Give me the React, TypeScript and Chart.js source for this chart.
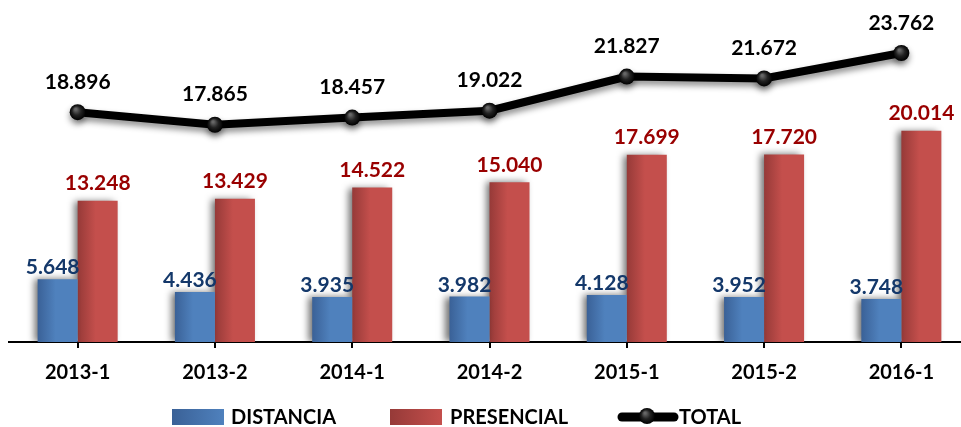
import React, { useEffect, useRef } from "react";
import { Chart, registerables } from "chart.js";

Chart.register(...registerables);

const categories = ["2013-1", "2013-2", "2014-1", "2014-2", "2015-1", "2015-2", "2016-1"];
const distancia = [5.648, 4.436, 3.935, 3.982, 4.128, 3.952, 3.748];
const presencial = [13.248, 13.429, 14.522, 15.04, 17.699, 17.72, 20.014];
const total = [18.896, 17.865, 18.457, 19.022, 21.827, 21.672, 23.762];
const seriesNames = ["DISTANCIA", "PRESENCIAL", "TOTAL"];

const FONT = "Lato, 'Open Sans', 'DejaVu Sans', sans-serif";
const BAR_MIN = -0.406;
const BAR_MAX = 31.68;
const LINE_MIN = 0;
const LINE_MAX = 27.3;
const CAT_PCT = 0.583;
const CANVAS_W = 978;

const BLUE_L = "#3a6197";
const BLUE_R = "#4f81bd";
const RED_L = "#963a38";
const RED_R = "#c44f4c";

function barGradient(ctx: any, left: boolean, c1: string, c2: string) {
  const chart = ctx.chart;
  const xs = chart.scales && chart.scales.x;
  if (!xs || ctx.type !== "data" || !xs.width) return c2;
  const center = xs.getPixelForValue(ctx.dataIndex);
  const w = (xs.width / categories.length) * CAT_PCT / 2;
  const x0 = left ? center - w : center;
  const g = chart.ctx.createLinearGradient(x0, 0, x0 + w, 0);
  g.addColorStop(0, c1);
  g.addColorStop(0.45, c2);
  g.addColorStop(1, c2);
  return g;
}

const shadowPlugin = {
  id: "shadows",
  beforeDatasetDraw(chart: any, args: any) {
    const ctx = chart.ctx;
    ctx.save();
    if (args.meta.type === "line") {
      ctx.shadowColor = "rgba(0,0,0,0.45)";
      ctx.shadowBlur = 6;
      ctx.shadowOffsetX = 0;
      ctx.shadowOffsetY = 4;
    } else {
      ctx.shadowColor = "rgba(0,0,0,0.55)";
      ctx.shadowBlur = 7;
      ctx.shadowOffsetX = -4;
      ctx.shadowOffsetY = 0;
    }
  },
  afterDatasetDraw(chart: any) {
    chart.ctx.restore();
  },
};

const labelPlugin = {
  id: "valueLabels",
  afterDatasetsDraw(chart: any) {
    const ctx = chart.ctx;
    ctx.save();
    ctx.font = `bold 21px ${FONT}`;
    ctx.textAlign = "center";
    ctx.textBaseline = "alphabetic";
    chart.data.datasets.forEach((ds: any, i: number) => {
      const meta = chart.getDatasetMeta(i);
      meta.data.forEach((el: any, j: number) => {
        const v = ds.data[j] as number;
        const txt = v.toFixed(3);
        if (ds.label === "TOTAL") {
          ctx.fillStyle = "#000000";
          ctx.fillText(txt, el.x, el.y - 23.5);
        } else if (ds.label === "PRESENCIAL") {
          ctx.fillStyle = "#990000";
          ctx.fillText(txt, el.x, el.y - 10.5);
        } else {
          ctx.fillStyle = "#14386a";
          ctx.fillText(txt, el.x - 5, el.y - 5);
        }
      });
    });
    ctx.restore();
  },
};

const legendPlugin = {
  id: "customLegend",
  afterDraw(chart: any) {
    const ctx = chart.ctx;
    ctx.save();
    const cy = 417;
    const drawSwatch = (x: number, c1: string, c2: string) => {
      const g = ctx.createLinearGradient(x, 0, x + 52, 0);
      g.addColorStop(0, c1);
      g.addColorStop(1, c2);
      ctx.fillStyle = g;
      ctx.fillRect(x, cy - 8, 52, 16);
    };
    ctx.font = `bold 20px ${FONT}`;
    ctx.textAlign = "left";
    ctx.textBaseline = "alphabetic";
    drawSwatch(172, BLUE_L, BLUE_R);
    ctx.fillStyle = "#000";
    ctx.fillText(seriesNames[0], 231, cy + 7);
    drawSwatch(390, RED_L, RED_R);
    ctx.fillStyle = "#000";
    ctx.fillText(seriesNames[1], 450, cy + 7);
    ctx.strokeStyle = "#000";
    ctx.lineWidth = 9;
    ctx.lineCap = "round";
    ctx.beginPath();
    ctx.moveTo(622, cy);
    ctx.lineTo(674, cy);
    ctx.stroke();
    const g = ctx.createRadialGradient(645, cy - 4, 1, 647, cy - 1, 8);
    g.addColorStop(0, "#666");
    g.addColorStop(0.5, "#222");
    g.addColorStop(1, "#000");
    ctx.beginPath();
    ctx.arc(647, cy - 1, 8, 0, Math.PI * 2);
    ctx.fillStyle = g;
    ctx.fill();
    ctx.fillStyle = "#000";
    ctx.fillText(seriesNames[2], 679, cy + 7);
    ctx.restore();
  },
};

export default function App() {
  const canvasRef = useRef<HTMLCanvasElement | null>(null);

  useEffect(() => {
    if (!canvasRef.current) return;
    const chart = new Chart(canvasRef.current, {
      type: "bar",
      data: {
        labels: categories,
        datasets: [
          {
            type: "line",
            label: seriesNames[2],
            data: total,
            yAxisID: "y2",
            order: 0,
            borderColor: "#000000",
            borderWidth: 8,
            tension: 0,
            pointRadius: 8,
            pointBorderWidth: 0,
            pointBackgroundColor: (ctx: any) => {
              const chart = ctx.chart;
              const xs = chart.scales && chart.scales.x;
              const ys = chart.scales && chart.scales.y2;
              if (!xs || !ys || ctx.type !== "data" || !xs.width) return "#111";
              const px = xs.getPixelForValue(ctx.dataIndex);
              const py = ys.getPixelForValue(total[ctx.dataIndex]);
              const g = chart.ctx.createRadialGradient(px - 2, py - 3, 1, px, py, 8);
              g.addColorStop(0, "#666");
              g.addColorStop(0.5, "#222");
              g.addColorStop(1, "#000");
              return g;
            },
          } as any,
          {
            type: "bar",
            label: seriesNames[0],
            data: distancia,
            yAxisID: "y",
            order: 1,
            base: BAR_MIN,
            backgroundColor: (ctx: any) => barGradient(ctx, true, BLUE_L, BLUE_R),
            borderWidth: 0,
            barPercentage: 1,
            categoryPercentage: CAT_PCT,
          } as any,
          {
            type: "bar",
            label: seriesNames[1],
            data: presencial,
            yAxisID: "y",
            order: 1,
            base: BAR_MIN,
            backgroundColor: (ctx: any) => barGradient(ctx, false, RED_L, RED_R),
            borderWidth: 0,
            barPercentage: 1,
            categoryPercentage: CAT_PCT,
          } as any,
        ],
      },
      options: {
        responsive: false,
        maintainAspectRatio: false,
        animation: false,
        devicePixelRatio: 1,
        layout: { padding: { left: 9, right: 0, top: 10, bottom: 0 } },
        plugins: {
          legend: { display: false },
          tooltip: { enabled: false },
        },
        scales: {
          x: {
            grid: {
              display: true,
              drawOnChartArea: false,
              drawTicks: true,
              tickLength: 6,
              color: "#000",
              lineWidth: 2,
              offset: false,
            },
            border: { display: true, color: "#000", width: 2 },
            ticks: {
              color: "#000",
              font: { family: FONT, weight: "bold", size: 20 },
              padding: 13,
              maxRotation: 0,
              autoSkip: false,
            },
            afterFit: (scale: any) => {
              scale.height = 85;
            },
          },
          y: {
            display: false,
            min: BAR_MIN,
            max: BAR_MAX,
          },
          y2: {
            display: false,
            min: LINE_MIN,
            max: LINE_MAX,
          },
        },
      } as any,
      plugins: [shadowPlugin, labelPlugin, legendPlugin],
    });
    return () => chart.destroy();
  }, []);

  return (
    <div
      style={{
        position: "absolute",
        left: 0,
        top: 0,
        width: 961,
        height: 427,
        overflow: "hidden",
        background: "#fff",
      }}
    >
      <canvas
        ref={canvasRef}
        width={CANVAS_W}
        height={427}
        style={{ display: "block", width: CANVAS_W, height: 427, maxWidth: "none" }}
      />
    </div>
  );
}
